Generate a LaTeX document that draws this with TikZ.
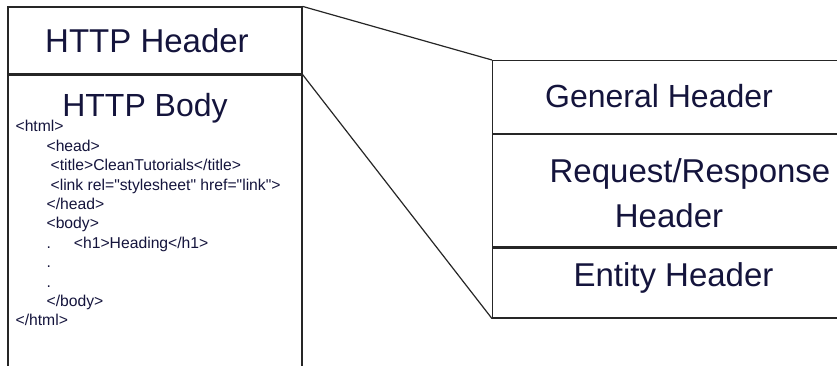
\documentclass[tikz,border=0pt]{standalone}
\usepackage{fontspec}
\setmainfont{Liberation Sans}
\usetikzlibrary{positioning}
\definecolor{inkblue}{HTML}{14143C}

\begin{document}
\begin{tikzpicture}[x=1pt,y=-1pt,line width=1.2pt,draw=black!85,
                    node distance=0pt]
  \tikzstyle{part}=[draw=black!85,rectangle,inner sep=0pt,minimum width=294pt]
  \tikzstyle{field}=[draw=black!85,rectangle,inner sep=0pt,minimum width=350pt]
  \tikzstyle{caption}=[text=inkblue,inner sep=0pt,font=\fontsize{33}{44}\selectfont]
  \tikzstyle{markup}=[text=inkblue,inner sep=0pt,align=left,font=\fontsize{15.7}{19.4}\selectfont]

  \useasboundingbox (0,0) rectangle (837,365);
  \clip (0,0) rectangle (837,365);

  % message on the left
  \node[part,minimum height=67pt] (header) at (155,40.5) {};
  \node[part,minimum height=320pt,anchor=north] (body) at (header.south) {};
  \node[caption] (headertitle) at (147,40.5) {HTTP Header};
  \node[caption,anchor=base,font=\fontsize{32}{36}\selectfont] (bodytitle) at (145,116) {HTTP Body};
  \node[markup,anchor=north west] (code) at (15,120)
    {<html>\\
     \hspace*{31pt}<head>\\
     \hspace*{35pt}<title>CleanTutorials</title>\\
     \hspace*{35pt}<link rel=\textquotedbl stylesheet\textquotedbl{} href=\textquotedbl link\textquotedbl>\\
     \hspace*{31pt}</head>\\
     \hspace*{31pt}<body>\\
     \hspace*{31pt}.\hspace*{23pt}<h1>Heading</h1>\\
     \hspace*{31pt}.\\
     \hspace*{31pt}.\\
     \hspace*{31pt}</body>\\
     </html>};

  % header fields on the right
  \node[field,minimum height=73pt,anchor=north west] (general) at (492,60) {};
  \node[field,minimum height=112pt,below=of general] (reqres) {};
  \node[field,minimum height=70pt,below=of reqres] (entity) {};
  \node[caption,font=\fontsize{32}{40}\selectfont] (generaltitle) at (659,96.5) {General Header};
  \node[caption,anchor=base] (reqtitle) at (690,182) {Request/Response};
  \node[caption,anchor=base] (reqtitle2) at (669,227) {Header};
  \node[caption] (entitytitle) at (673.5,278) {Entity Header};

  \draw (header.north east) -- (general.north west);
  \draw (header.south east) -- (entity.south west);
\end{tikzpicture}
\end{document}
